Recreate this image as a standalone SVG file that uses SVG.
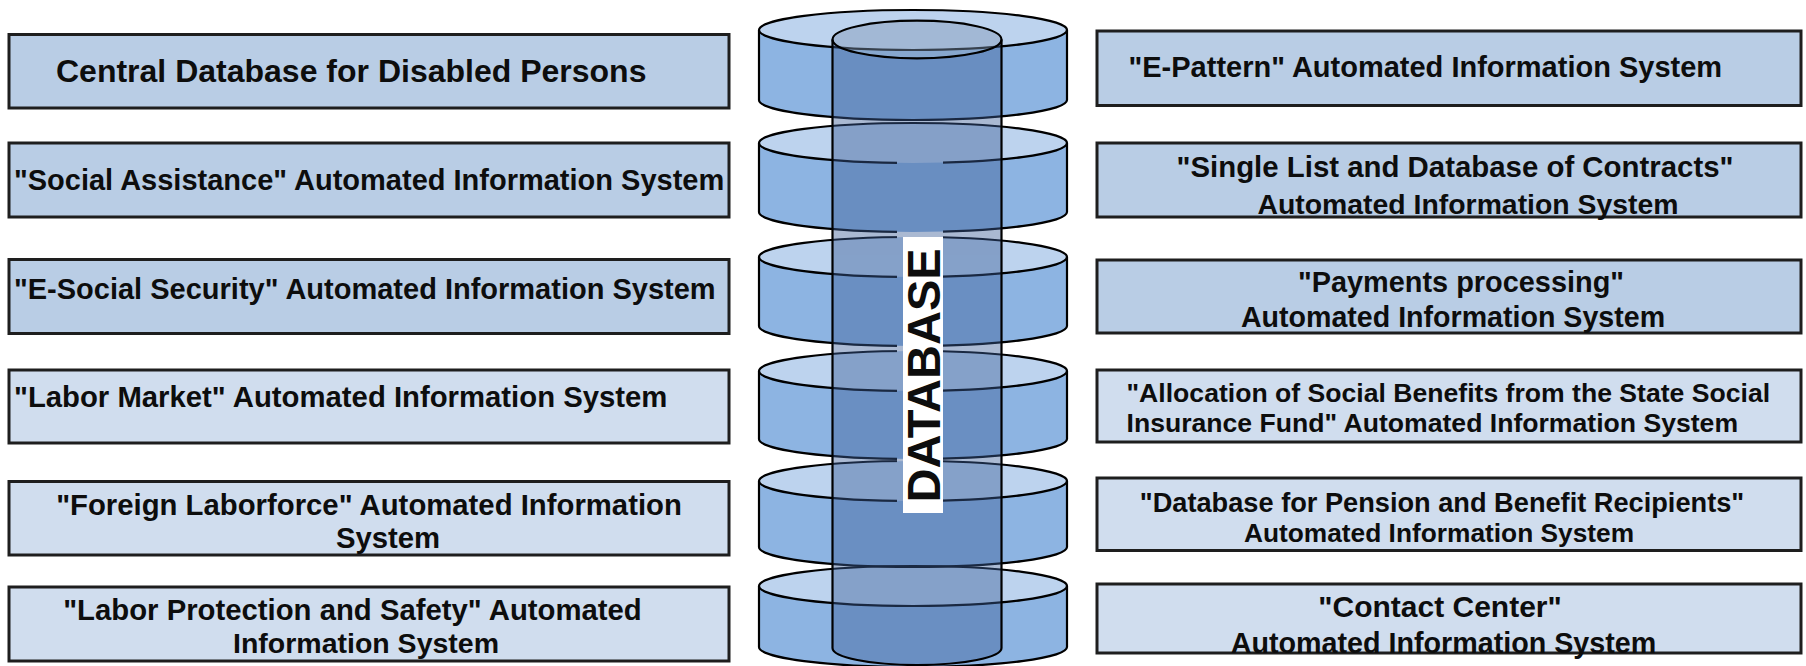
<svg xmlns="http://www.w3.org/2000/svg" width="1806" height="666" viewBox="0 0 1806 666">
  <style>
    .box { stroke: #1e1e1e; stroke-width: 3; }
    .dark { fill: #b9cde5; }
    .light { fill: #d0ddee; }
    .t { font-family: "Liberation Sans", Arial, Helvetica, sans-serif; font-weight: bold; fill: #0d0d0d; }
    .side { fill: #8db4e2; }
    .face { fill: #bdd3ee; }
    .edge { fill: none; stroke: #000; stroke-width: 2.2; }
  </style>
  <defs>
    <!-- hides the ring outlines behind the vertical caption strip -->
    <mask id="stripGap" maskUnits="userSpaceOnUse" x="0" y="0" width="1806" height="666">
      <rect x="0" y="0" width="1806" height="666" fill="#fff"/>
      <rect x="897" y="158" width="46" height="382" fill="#000"/>
    </mask>
  </defs>

  <!-- left column -->
  <g id="node-central-db">
    <rect class="box dark" x="9" y="34.5" width="720" height="73.5"/>
    <text class="t" x="56" y="82" font-size="32">Central Database for Disabled Persons</text>
  </g>
  <g id="node-social-assistance">
    <rect class="box dark" x="9" y="143" width="720" height="74"/>
    <text class="t" x="14" y="190" font-size="29">"Social Assistance" Automated Information System</text>
  </g>
  <g id="node-e-social-security">
    <rect class="box dark" x="9" y="259.5" width="720" height="74"/>
    <text class="t" x="14" y="298.5" font-size="29">"E-Social Security" Automated Information System</text>
  </g>
  <g id="node-labor-market">
    <rect class="box light" x="9" y="370" width="720" height="73"/>
    <text class="t" x="14" y="406.5" font-size="29.3">"Labor Market" Automated Information System</text>
  </g>
  <g id="node-foreign-laborforce">
    <rect class="box light" x="9" y="481.5" width="720" height="73.5"/>
    <text class="t" x="369" y="515" font-size="29.3" text-anchor="middle">"Foreign Laborforce" Automated Information</text>
    <text class="t" x="388" y="548" font-size="29.3" text-anchor="middle">System</text>
  </g>
  <g id="node-labor-protection">
    <rect class="box light" x="9" y="587" width="720" height="74"/>
    <text class="t" x="352.5" y="620" font-size="29.3" text-anchor="middle">"Labor Protection and Safety" Automated</text>
    <text class="t" x="366" y="653" font-size="28.5" text-anchor="middle">Information System</text>
  </g>

  <!-- right column -->
  <g id="node-e-pattern">
    <rect class="box dark" x="1097" y="31" width="704" height="74.5"/>
    <text class="t" x="1128.5" y="76.5" font-size="29">"E-Pattern" Automated Information System</text>
  </g>
  <g id="node-single-list">
    <rect class="box dark" x="1097" y="143" width="704" height="74"/>
    <text class="t" x="1455" y="176.5" font-size="29.4" text-anchor="middle">"Single List and Database of Contracts"</text>
    <text class="t" x="1468" y="213.5" font-size="28.4" text-anchor="middle">Automated Information System</text>
  </g>
  <g id="node-payments">
    <rect class="box dark" x="1097" y="260" width="704" height="73"/>
    <text class="t" x="1461" y="291.5" font-size="28.9" text-anchor="middle">"Payments processing"</text>
    <text class="t" x="1453" y="326.5" font-size="28.6" text-anchor="middle">Automated Information System</text>
  </g>
  <g id="node-allocation">
    <rect class="box light" x="1097" y="370" width="704" height="72"/>
    <text class="t" x="1126.5" y="401.5" font-size="26.6">"Allocation of Social Benefits from the State Social</text>
    <text class="t" x="1126.5" y="431.5" font-size="26.6">Insurance Fund" Automated Information System</text>
  </g>
  <g id="node-pension-db">
    <rect class="box light" x="1097" y="478" width="704" height="72.5"/>
    <text class="t" x="1442" y="511.5" font-size="27.2" text-anchor="middle">"Database for Pension and Benefit Recipients"</text>
    <text class="t" x="1439" y="541.5" font-size="26.3" text-anchor="middle">Automated Information System</text>
  </g>
  <g id="node-contact-center">
    <rect class="box light" x="1097" y="584" width="704" height="69"/>
    <text class="t" x="1440" y="616.5" font-size="30" text-anchor="middle">"Contact Center"</text>
    <text class="t" x="1443.5" y="653" font-size="28.7" text-anchor="middle">Automated Information System</text>
  </g>

  <!-- central database: stacked rings around a see-through core -->
  <g id="node-database">
    <!-- ring fills -->
    <g id="ring-fills">
      <path class="side" d="M759,30 V100 A154,20 0 0 0 1067,100 V30 Z"/>
      <ellipse class="face" cx="913" cy="30" rx="154" ry="20"/>
      <path class="side" d="M759,143 V212 A154,20 0 0 0 1067,212 V143 Z"/>
      <ellipse class="face" cx="913" cy="143" rx="154" ry="20"/>
      <path class="side" d="M759,257 V326 A154,20 0 0 0 1067,326 V257 Z"/>
      <ellipse class="face" cx="913" cy="257" rx="154" ry="20"/>
      <path class="side" d="M759,371 V439 A154,20 0 0 0 1067,439 V371 Z"/>
      <ellipse class="face" cx="913" cy="371" rx="154" ry="20"/>
      <path class="side" d="M759,481 V547 A154,20 0 0 0 1067,547 V481 Z"/>
      <ellipse class="face" cx="913" cy="481" rx="154" ry="20"/>
      <path class="side" d="M759,586 V647 A154,20 0 0 0 1067,647 V586 Z"/>
      <ellipse class="face" cx="913" cy="586" rx="154" ry="20"/>
    </g>
    <!-- ring outlines -->
    <g id="ring-edges" class="edge" mask="url(#stripGap)">
      <path d="M759,30 V100 A154,20 0 0 0 1067,100 V30"/>
      <ellipse cx="913" cy="30" rx="154" ry="20"/>
      <path d="M759,143 V212 A154,20 0 0 0 1067,212 V143"/>
      <ellipse cx="913" cy="143" rx="154" ry="20"/>
      <path d="M759,257 V326 A154,20 0 0 0 1067,326 V257"/>
      <ellipse cx="913" cy="257" rx="154" ry="20"/>
      <path d="M759,371 V439 A154,20 0 0 0 1067,439 V371"/>
      <ellipse cx="913" cy="371" rx="154" ry="20"/>
      <path d="M759,481 V547 A154,20 0 0 0 1067,547 V481"/>
      <ellipse cx="913" cy="481" rx="154" ry="20"/>
      <path d="M759,586 V647 A154,20 0 0 0 1067,647 V586"/>
      <ellipse cx="913" cy="586" rx="154" ry="20"/>
    </g>
    <!-- translucent core -->
    <g id="core-fill" opacity="0.43">
      <path fill="#3c5e98" d="M832.5,39.5 V648 A84.5,17 0 0 0 1001.5,648 V39.5 Z"/>
      <ellipse fill="#8097b6" cx="917" cy="39.5" rx="84.5" ry="18.8"/>
    </g>
    <g id="core-edges" class="edge">
      <path d="M832.5,39.5 V648 A84.5,17 0 0 0 1001.5,648 V39.5"/>
      <ellipse cx="917" cy="39.5" rx="84.5" ry="18.8"/>
    </g>
    <!-- vertical caption -->
    <rect x="903" y="237" width="40" height="276" fill="#fff"/>
    <text class="t" transform="translate(940,375.5) rotate(-90)" x="0" y="0" font-size="47" text-anchor="middle" fill="#000">DATABASE</text>
  </g>

  <!-- no connectors in this diagram -->
  <g id="connectors"/>
</svg>
